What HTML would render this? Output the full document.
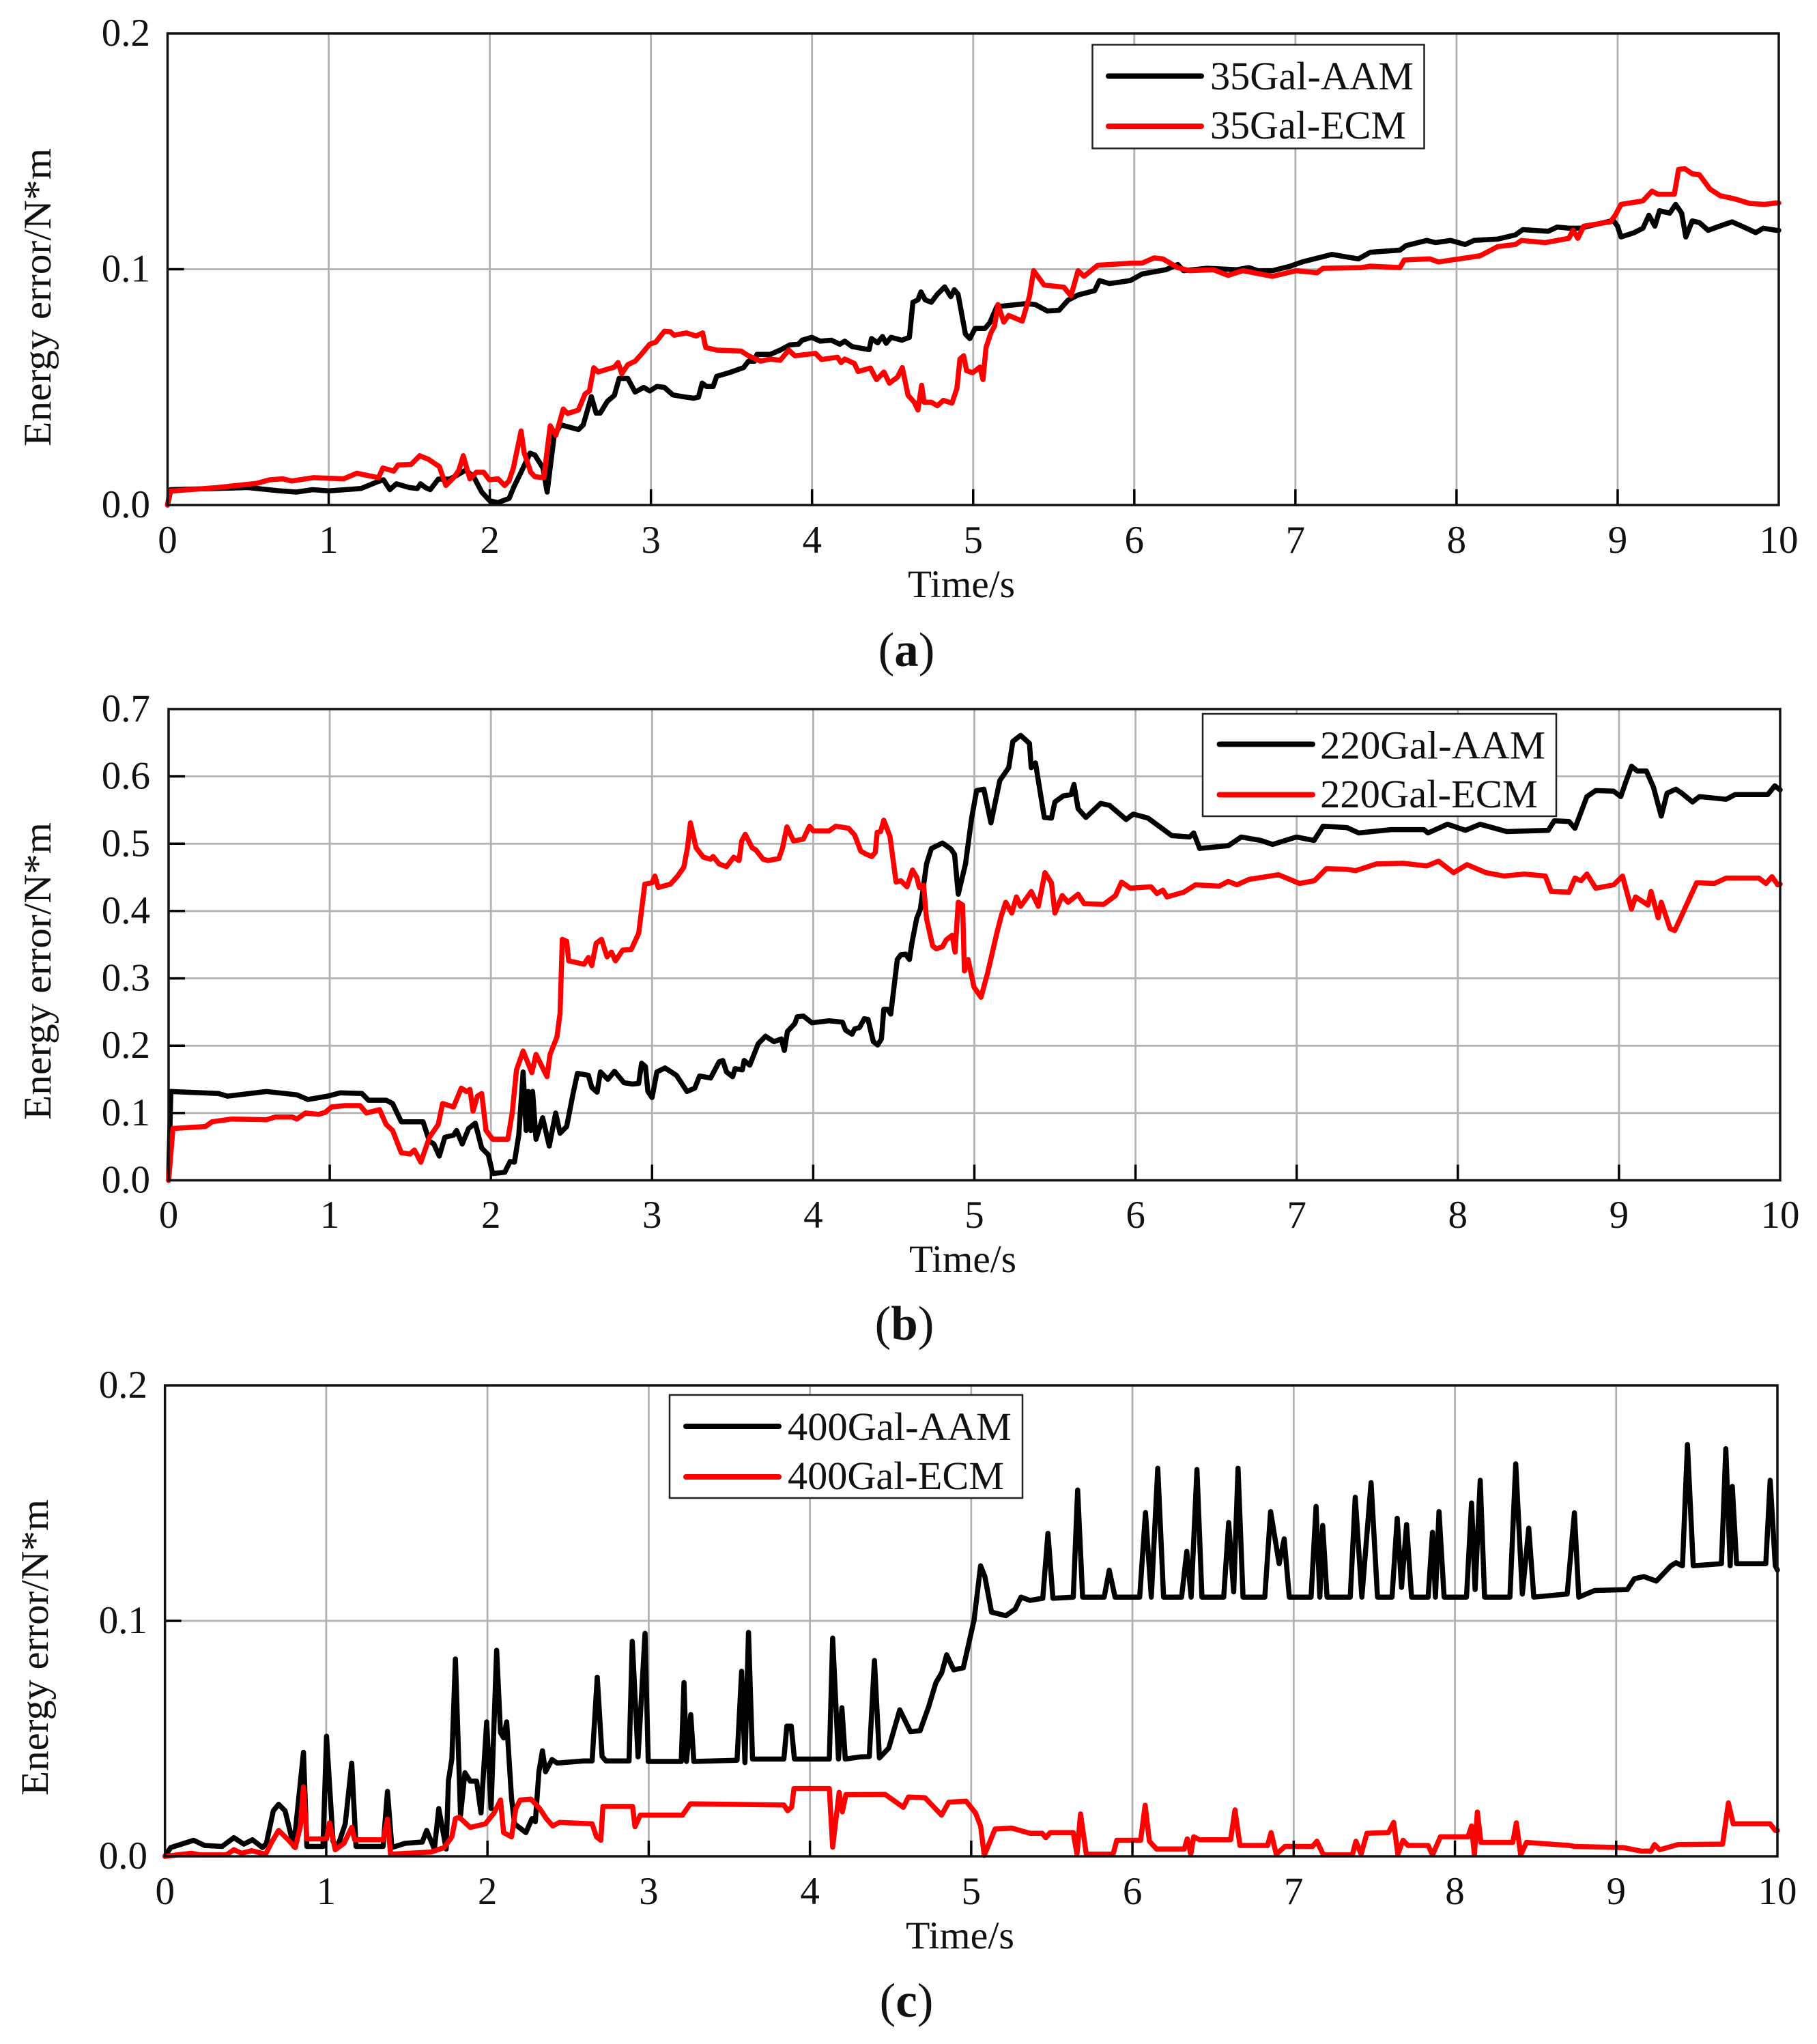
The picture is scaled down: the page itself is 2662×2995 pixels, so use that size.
<!DOCTYPE html>
<html lang="en">
<head>
<meta charset="utf-8">
<title>Energy error comparison</title>
<style>
html,body{margin:0;padding:0;background:#fff;}
#figure{display:block;width:2662px;height:2995px;background:#fff;}
text{font-family:"Liberation Serif",serif;fill:#111;}
.tick{font-size:57px;}
.title{font-size:57px;}
.legend-label{font-size:58px;}
.caption{font-size:71px;}
.caption-letter{font-weight:bold;}
</style>
</head>
<body>
<svg id="figure" xmlns="http://www.w3.org/2000/svg" width="2662" height="2995" viewBox="0 0 2662 2995">
  <rect x="0" y="0" width="2662" height="2995" fill="#fff"/>
  <g id="panel-a"></g>
  <g id="panel-b"></g>
  <g id="panel-c"></g>

  <text class="title" transform="translate(74 654) rotate(-90)" textLength="437" lengthAdjust="spacingAndGlyphs">Energy error/N*m</text>
  <text class="title" x="1330" y="875" textLength="157" lengthAdjust="spacingAndGlyphs">Time/s</text>
  <text class="caption" x="1328" y="976" text-anchor="middle">(<tspan class="caption-letter">a</tspan>)</text>

  <text class="title" transform="translate(74 1641) rotate(-90)" textLength="436" lengthAdjust="spacingAndGlyphs">Energy error/N*m</text>
  <text class="title" x="1332" y="1864" textLength="157" lengthAdjust="spacingAndGlyphs">Time/s</text>
  <text class="caption" x="1325" y="1963" text-anchor="middle">(<tspan class="caption-letter">b</tspan>)</text>

  <text class="title" transform="translate(70 2631) rotate(-90)" textLength="434" lengthAdjust="spacingAndGlyphs">Energy error/N*m</text>
  <text class="title" x="1327" y="2855" textLength="159" lengthAdjust="spacingAndGlyphs">Time/s</text>
  <text class="caption" x="1328" y="2955" text-anchor="middle">(<tspan class="caption-letter">c</tspan>)</text>

  <g id="legend-a">
    <rect x="1600.5" y="65.5" width="486" height="152" fill="#fff" stroke="#222" stroke-width="2.5"/>
    <line x1="1624" x2="1760" y1="111.5" y2="111.5" stroke="#000" stroke-width="8" stroke-linecap="round"/>
    <text class="legend-label" x="1773" y="131" textLength="298" lengthAdjust="spacingAndGlyphs">35Gal-AAM</text>
    <line x1="1624" x2="1760" y1="185" y2="185" stroke="#f00" stroke-width="8" stroke-linecap="round"/>
    <text class="legend-label" x="1773" y="203" textLength="287" lengthAdjust="spacingAndGlyphs">35Gal-ECM</text>
  </g>
  <g id="legend-b">
    <rect x="1762" y="1046" width="518" height="150" fill="#fff" stroke="#222" stroke-width="2.5"/>
    <line x1="1786.5" x2="1923" y1="1090.5" y2="1090.5" stroke="#000" stroke-width="8" stroke-linecap="round"/>
    <text class="legend-label" x="1934" y="1111.5" textLength="330" lengthAdjust="spacingAndGlyphs">220Gal-AAM</text>
    <line x1="1786.5" x2="1923" y1="1164.5" y2="1164.5" stroke="#f00" stroke-width="8" stroke-linecap="round"/>
    <text class="legend-label" x="1934" y="1183" textLength="319" lengthAdjust="spacingAndGlyphs">220Gal-ECM</text>
  </g>
  <g id="legend-c">
    <rect x="981" y="2044" width="517" height="151" fill="#fff" stroke="#222" stroke-width="2.5"/>
    <line x1="1005" x2="1141" y1="2090" y2="2090" stroke="#000" stroke-width="8" stroke-linecap="round"/>
    <text class="legend-label" x="1154" y="2110" textLength="328" lengthAdjust="spacingAndGlyphs">400Gal-AAM</text>
    <line x1="1005" x2="1141" y1="2164" y2="2164" stroke="#f00" stroke-width="8" stroke-linecap="round"/>
    <text class="legend-label" x="1154" y="2182" textLength="317" lengthAdjust="spacingAndGlyphs">400Gal-ECM</text>
  </g>
</svg>
<script>
const xTickLabels = ['0','1','2','3','4','5','6','7','8','9','10'];
const yTickLabelsA = ['0.0','0.1','0.2'];
const yTickLabelsB = ['0.0','0.1','0.2','0.3','0.4','0.5','0.6','0.7'];
const yTickLabelsC = ['0.0','0.1','0.2'];

const aAamTime = [0,.02,.3,.5,.7,.8,.9,1,1.2,1.3,1.34,1.38,1.42,1.5,1.55,1.57,1.6,1.63,1.68,1.75,1.78,1.85,1.9,1.95,2,2.05,2.12,2.15,2.2,2.25,2.28,2.33,2.356,2.4,2.44,2.55,2.58,2.63,2.66,2.685,2.73,2.773,2.803,2.856,2.902,2.955,2.992,3.038,3.083,3.136,3.204,3.265,3.295,3.318,3.345,3.386,3.408,3.484,3.575,3.605,3.643,3.658,3.741,3.802,3.862,3.915,3.938,3.998,4.051,4.12,4.172,4.203,4.248,4.354,4.369,4.407,4.437,4.46,4.49,4.558,4.604,4.626,4.657,4.676,4.702,4.74,4.778,4.823,4.861,4.883,4.906,4.952,4.979,5.012,5.073,5.103,5.147,5.33,5.386,5.46,5.533,5.589,5.651,5.754,5.784,5.846,5.975,6.049,6.196,6.27,6.306,6.453,6.637,6.71,6.766,6.858,6.968,7.042,7.152,7.226,7.3,7.391,7.465,7.649,7.686,7.815,7.87,7.962,8.054,8.109,8.256,8.366,8.411,8.569,8.624,8.698,8.771,8.845,8.973,8.999,9.021,9.102,9.157,9.194,9.231,9.26,9.323,9.36,9.397,9.423,9.463,9.507,9.562,9.617,9.71,9.783,9.857,9.904,9.985,10];
const aAamValues = [0,.0065,.007,.0074,.006,.0055,.0065,.006,.007,.0098,.0107,.0065,.009,.0074,.007,.009,.0074,.0065,.011,.011,.012,.0148,.012,.0055,.0018,.001,.0028,.0078,.0148,.022,.0212,.0157,.0055,.0296,.034,.032,.034,.046,.039,.039,.044,.0465,.0537,.0537,.0479,.0499,.0484,.0503,.0499,.0467,.0459,.0453,.0458,.0517,.0503,.0503,.0546,.0561,.0583,.061,.061,.0639,.0639,.0657,.0679,.0682,.0699,.0711,.0695,.0699,.0682,.0695,.0672,.0659,.0706,.0688,.0715,.0686,.0711,.0699,.0711,.086,.087,.0904,.087,.086,.0894,.0925,.0884,.0913,.0894,.0725,.0706,.0749,.0749,.0773,.0841,.0854,.085,.0823,.0826,.0869,.0891,.0909,.0952,.0939,.0952,.098,.0998,.102,.0994,.1004,.0998,.1007,.0994,.0994,.1013,.1031,.105,.1063,.1054,.1044,.1072,.1081,.11,.1122,.1113,.1122,.1105,.1122,.1128,.1146,.1168,.1161,.1179,.1174,.1174,.1187,.1207,.1183,.1137,.1155,.1174,.1229,.1183,.1248,.1238,.1275,.1238,.1137,.1205,.1198,.1165,.1179,.1201,.1179,.1155,.1174,.1165,.1165];

const aEcmTime = [0,.014,.31,.553,.634,.715,.77,.904,1.093,1.174,1.309,1.336,1.404,1.43,1.511,1.565,1.619,1.687,1.727,1.781,1.808,1.835,1.876,1.916,1.962,1.997,2.051,2.092,2.119,2.146,2.194,2.213,2.254,2.28,2.335,2.375,2.41,2.456,2.483,2.55,2.591,2.618,2.645,2.672,2.773,2.796,2.819,2.856,2.902,2.94,2.992,3.03,3.083,3.121,3.144,3.22,3.28,3.321,3.34,3.408,3.56,3.605,3.681,3.741,3.802,3.855,3.893,4.021,4.059,4.157,4.18,4.203,4.263,4.286,4.362,4.4,4.446,4.48,4.53,4.56,4.596,4.634,4.657,4.68,4.695,4.74,4.778,4.815,4.868,4.899,4.918,4.941,4.959,4.997,5.042,5.061,5.08,5.11,5.133,5.154,5.19,5.22,5.305,5.35,5.375,5.44,5.563,5.607,5.651,5.688,5.773,5.99,6.049,6.122,6.177,6.27,6.343,6.49,6.582,6.674,6.858,7.005,7.134,7.171,7.41,7.465,7.649,7.675,7.833,7.888,8.146,8.256,8.366,8.403,8.55,8.697,8.723,8.753,8.79,8.955,8.985,9.021,9.157,9.213,9.25,9.352,9.378,9.415,9.463,9.507,9.573,9.636,9.728,9.82,9.912,9.985,10];
const aEcmValues = [0,.0059,.0074,.0092,.0107,.0111,.0102,.0116,.0111,.0135,.0116,.0157,.0144,.017,.0172,.0209,.0194,.0163,.0083,.012,.0148,.0209,.0111,.0139,.0139,.0107,.0111,.0083,.0102,.0157,.0314,.0222,.0139,.012,.0116,.0336,.0296,.0407,.0388,.0403,.0471,.0484,.0582,.0564,.0585,.0604,.0557,.0595,.061,.0639,.0682,.0691,.0737,.0735,.072,.073,.0717,.073,.0668,.0657,.0653,.0633,.061,.0619,.0614,.0657,.0633,.0643,.0617,.0627,.0604,.0619,.06,.0566,.0581,.0532,.0564,.0517,.0542,.0583,.0465,.0436,.0403,.0508,.0436,.0436,.0421,.0444,.0432,.0494,.0619,.0633,.057,.0561,.0585,.0532,.0668,.073,.076,.085,.0776,.0804,.078,.0887,.0994,.0933,.0924,.0887,.0994,.097,.1017,.1026,.1026,.1048,.1044,.1007,.0994,.0998,.0974,.0994,.097,.0994,.0985,.1004,.1007,.1013,.1007,.1039,.1044,.1031,.1057,.1096,.1105,.1122,.1113,.1131,.1165,.1131,.1183,.1201,.1229,.1275,.129,.1331,.1318,.1318,.1423,.1427,.1405,.1401,.134,.1312,.1298,.1279,.1275,.1281,.1281];

const bAamTime = [0,.014,.31,.365,.607,.796,.864,.985,1.066,1.2,1.24,1.35,1.39,1.444,1.579,1.619,1.646,1.68,1.714,1.768,1.787,1.822,1.862,1.903,1.943,1.984,2.011,2.086,2.119,2.146,2.173,2.2,2.219,2.232,2.248,2.259,2.28,2.321,2.362,2.402,2.429,2.47,2.51,2.537,2.605,2.626,2.659,2.68,2.726,2.767,2.826,2.879,2.917,2.935,2.959,2.974,3,3.03,3.08,3.151,3.217,3.265,3.295,3.363,3.416,3.439,3.462,3.5,3.515,3.56,3.572,3.606,3.659,3.704,3.757,3.802,3.821,3.84,3.886,3.901,3.939,3.992,4.098,4.181,4.201,4.241,4.257,4.287,4.317,4.34,4.373,4.4,4.423,4.438,4.461,4.481,4.522,4.544,4.574,4.597,4.612,4.642,4.665,4.703,4.733,4.802,4.855,4.877,4.9,4.945,4.983,5.014,5.059,5.103,5.158,5.213,5.239,5.287,5.342,5.353,5.379,5.434,5.478,5.5,5.552,5.6,5.618,5.644,5.692,5.784,5.839,5.942,5.986,6.078,6.225,6.336,6.361,6.398,6.575,6.656,6.777,6.851,6.998,7.108,7.164,7.311,7.385,7.586,7.789,7.815,7.936,8.047,8.139,8.304,8.561,8.598,8.69,8.727,8.801,8.856,8.967,9.011,9.041,9.078,9.114,9.17,9.214,9.262,9.298,9.353,9.39,9.456,9.5,9.665,9.72,9.923,9.967,10];
const bAamValues = [0,.132,.129,.125,.132,.127,.12,.125,.13,.129,.119,.119,.114,.087,.087,.058,.054,.036,.064,.067,.074,.054,.077,.085,.048,.038,.01,.012,.028,.027,.067,.161,.074,.132,.074,.132,.061,.093,.051,.1,.07,.08,.129,.159,.156,.138,.131,.161,.15,.162,.145,.143,.144,.174,.169,.132,.123,.161,.167,.156,.132,.137,.155,.152,.176,.178,.161,.154,.166,.164,.178,.171,.203,.214,.206,.21,.193,.221,.233,.243,.244,.234,.237,.235,.223,.217,.225,.227,.24,.239,.206,.201,.21,.254,.254,.247,.328,.335,.336,.328,.352,.389,.403,.47,.493,.501,.492,.484,.425,.47,.538,.579,.581,.531,.594,.613,.652,.661,.649,.613,.62,.539,.538,.562,.571,.573,.588,.552,.539,.56,.557,.536,.544,.538,.512,.51,.516,.493,.497,.51,.505,.499,.51,.505,.526,.524,.516,.521,.521,.516,.529,.52,.529,.518,.52,.534,.533,.523,.57,.579,.578,.57,.591,.615,.608,.608,.584,.541,.575,.581,.575,.562,.57,.566,.573,.573,.586,.58];

const bEcmTime = [0,.027,.229,.27,.391,.607,.661,.769,.796,.85,.931,.972,1.012,1.093,1.188,1.228,1.309,1.35,1.39,1.444,1.498,1.525,1.565,1.619,1.673,1.7,1.768,1.816,1.849,1.87,1.889,1.916,1.943,1.97,2.011,2.105,2.132,2.159,2.2,2.254,2.28,2.348,2.367,2.41,2.429,2.443,2.47,2.483,2.578,2.605,2.626,2.653,2.686,2.721,2.748,2.773,2.818,2.871,2.917,2.955,3,3.018,3.038,3.114,3.159,3.197,3.22,3.238,3.273,3.318,3.363,3.379,3.416,3.462,3.507,3.54,3.556,3.578,3.621,3.643,3.689,3.719,3.787,3.81,3.837,3.878,3.939,3.977,4,4.098,4.14,4.219,4.257,4.295,4.325,4.363,4.385,4.397,4.418,4.438,4.476,4.514,4.544,4.582,4.616,4.643,4.658,4.685,4.703,4.741,4.764,4.802,4.825,4.862,4.88,4.9,4.927,4.938,4.961,4.998,5.041,5.082,5.14,5.166,5.195,5.232,5.261,5.287,5.353,5.397,5.438,5.478,5.5,5.545,5.581,5.644,5.681,5.802,5.876,5.913,5.968,6.096,6.133,6.17,6.196,6.299,6.372,6.519,6.575,6.63,6.703,6.887,7.018,7.11,7.184,7.31,7.366,7.494,7.66,7.807,7.88,7.974,8.057,8.175,8.285,8.414,8.543,8.58,8.69,8.727,8.764,8.801,8.856,8.967,9.022,9.077,9.103,9.18,9.199,9.243,9.262,9.317,9.346,9.39,9.482,9.592,9.665,9.868,9.912,9.949,9.985,10];
const bEcmValues = [0,.077,.08,.087,.091,.09,.094,.094,.091,.1,.098,.101,.109,.111,.111,.1,.105,.083,.074,.041,.039,.045,.027,.064,.083,.114,.109,.137,.132,.135,.103,.125,.129,.074,.061,.061,.1,.164,.192,.16,.187,.154,.187,.213,.248,.358,.355,.326,.321,.331,.319,.352,.358,.332,.339,.326,.342,.343,.367,.44,.442,.452,.435,.44,.452,.465,.494,.531,.494,.48,.477,.481,.47,.466,.48,.475,.504,.514,.494,.491,.477,.475,.478,.494,.525,.504,.507,.526,.519,.519,.526,.523,.513,.489,.485,.481,.487,.517,.518,.535,.511,.443,.445,.436,.461,.45,.435,.438,.389,.348,.344,.347,.357,.364,.339,.413,.409,.311,.328,.287,.272,.308,.368,.392,.413,.397,.421,.407,.429,.407,.457,.442,.397,.423,.413,.425,.411,.41,.423,.443,.434,.436,.426,.431,.421,.428,.439,.437,.444,.439,.447,.454,.441,.445,.463,.462,.46,.47,.471,.467,.474,.457,.469,.457,.452,.455,.452,.429,.428,.449,.445,.455,.434,.439,.452,.403,.421,.409,.429,.39,.413,.374,.371,.394,.442,.441,.449,.449,.441,.451,.439,.44];

const cAamTime = [0,.035,.178,.246,.354,.427,.489,.543,.605,.629,.672,.705,.745,.799,.859,.88,.98,1.002,1.042,1.069,1.118,1.158,1.185,1.353,1.38,1.407,1.488,1.596,1.623,1.671,1.698,1.744,1.758,1.779,1.801,1.833,1.86,1.893,1.933,1.96,1.995,2.022,2.057,2.081,2.1,2.119,2.149,2.168,2.238,2.276,2.297,2.319,2.341,2.36,2.4,2.433,2.595,2.649,2.681,2.711,2.735,2.878,2.898,2.934,2.977,2.997,3.202,3.219,3.234,3.261,3.28,3.548,3.576,3.597,3.619,3.644,3.838,3.857,3.884,3.904,4.12,4.141,4.177,4.198,4.219,4.308,4.368,4.4,4.431,4.489,4.557,4.624,4.683,4.736,4.781,4.817,4.848,4.892,4.951,5.018,5.058,5.085,5.126,5.215,5.273,5.309,5.364,5.444,5.476,5.507,5.633,5.66,5.691,5.825,5.856,5.892,6.045,6.081,6.117,6.157,6.193,6.305,6.337,6.364,6.4,6.431,6.566,6.597,6.628,6.655,6.686,6.821,6.857,6.91,6.941,6.973,7.108,7.139,7.162,7.18,7.207,7.351,7.382,7.423,7.48,7.52,7.61,7.642,7.669,7.7,7.731,7.834,7.861,7.879,7.901,7.933,8.072,8.103,8.125,8.157,8.184,8.341,8.377,8.418,8.458,8.489,8.696,8.741,8.768,8.867,9.069,9.113,9.172,9.249,9.339,9.371,9.411,9.442,9.478,9.653,9.68,9.707,9.72,9.747,9.928,9.955,9.987,10];
const cAamValues = [0,.0037,.0068,.0046,.0042,.0079,.0052,.007,.0037,.0055,.0193,.0221,.0193,.0042,.0442,.0042,.0042,.051,.0064,.0037,.0138,.0396,.0042,.0042,.0276,.0037,.0055,.0061,.011,.0031,.0203,.0031,.0322,.0414,.0838,.0175,.0355,.0319,.0319,.0184,.0571,.0203,.0875,.0525,.0503,.0571,.0249,.0138,.0101,.016,.0147,.0359,.0448,.0359,.0411,.0396,.0405,.0405,.0761,.0424,.0405,.0405,.0913,.0422,.0947,.0403,.0403,.0738,.0403,.0602,.0403,.0408,.0786,.0398,.0951,.0413,.0413,.0553,.0553,.0413,.0413,.0927,.0413,.0631,.0413,.0422,.0424,.0832,.0418,.046,.0622,.0529,.0534,.0635,.0737,.0779,.0856,.0792,.0801,.1004,.1234,.1188,.1037,.1022,.105,.1101,.1087,.1096,.1372,.1096,.1101,.1556,.1101,.1101,.1215,.1101,.1101,.146,.1101,.1648,.1101,.1101,.1295,.1101,.1643,.1101,.1101,.1418,.1123,.1648,.1101,.1101,.1464,.1243,.1348,.1101,.1101,.1486,.1101,.1405,.1101,.1101,.1525,.1101,.1587,.1101,.1101,.1436,.1142,.1409,.1101,.1101,.1376,.1101,.1464,.1101,.1101,.1501,.1133,.1597,.1101,.1101,.1667,.1114,.1394,.1101,.1114,.1459,.1101,.1129,.1133,.1179,.1188,.1169,.1234,.1247,.1234,.1749,.1234,.1243,.1731,.1234,.1571,.1243,.1243,.1597,.1234,.1216];

const cEcmTime = [0,.165,.219,.381,.427,.475,.538,.624,.665,.705,.759,.808,.84,.859,.88,1.002,1.02,1.056,1.11,1.158,1.177,1.353,1.38,1.399,1.649,1.731,1.779,1.801,1.825,1.893,1.987,2.041,2.081,2.1,2.149,2.176,2.203,2.27,2.324,2.365,2.405,2.446,2.649,2.676,2.703,2.716,2.9,2.915,2.948,3.209,3.258,3.838,3.862,3.887,3.901,4.12,4.141,4.181,4.201,4.223,4.467,4.579,4.611,4.713,4.816,4.861,4.969,5.027,5.058,5.081,5.148,5.251,5.364,5.44,5.463,5.49,5.633,5.656,5.678,5.714,5.88,5.903,6.051,6.079,6.105,6.15,6.321,6.34,6.362,6.38,6.416,6.609,6.636,6.667,6.838,6.86,6.892,6.946,7.117,7.144,7.184,7.364,7.386,7.418,7.454,7.588,7.62,7.646,7.678,7.709,7.834,7.861,7.91,8.081,8.103,8.121,8.139,8.161,8.359,8.381,8.408,8.444,8.709,8.741,9.045,9.157,9.216,9.238,9.27,9.382,9.66,9.696,9.726,9.955,9.987,10];
const cEcmValues = [0,.0013,.0006,.0006,.0028,.0013,.0024,.0009,.0064,.011,.0074,.0037,.0129,.0295,.0074,.0074,.0142,.0028,.0055,.0123,.007,.007,.0157,.0009,.0018,.0037,.0083,.016,.0166,.0123,.0138,.0184,.0239,.0101,.0083,.0203,.0239,.0243,.0203,.016,.0129,.0144,.0138,.0083,.0068,.0212,.0212,.0126,.0175,.0175,.0223,.0218,.0194,.0209,.0288,.0288,.0039,.0272,.0189,.0262,.0263,.0208,.0252,.0249,.0175,.023,.0234,.0184,.0129,.0004,.0116,.012,.0098,.0098,.0079,.0101,.0101,.0009,.018,.0009,.0009,.0068,.0068,.0217,.0064,.0031,.0031,.0074,.0009,.0083,.007,.007,.0197,.0046,.0046,.0101,.0009,.0042,.0042,.0064,.0006,.0006,.0064,.0009,.0098,.0101,.0144,.0009,.0068,.0046,.0046,.0006,.0083,.0083,.0129,.0006,.0188,.0059,.0059,.0142,.0006,.0059,.0046,.0042,.0037,.0022,.0022,.005,.0028,.005,.0052,.0227,.0138,.0138,.011,.011];

const SVG_NS = 'http://www.w3.org/2000/svg';

function makeAxes(left, right, top, bottom, yMax) {
  return {
    left, right, top, bottom,
    x: function (t) { return left + (right - left) * t / 10; },
    y: function (v) { return bottom - (bottom - top) * v / yMax; }
  };
}

function shape(tag, attrs, parent) {
  const node = document.createElementNS(SVG_NS, tag);
  for (const key in attrs) { node.setAttribute(key, attrs[key]); }
  parent.appendChild(node);
  return node;
}

function drawGrid(group, axes, yLabels, yMax, labelRight, xBaseline) {
  xTickLabels.forEach(function (label) {
    const t = Number(label);
    if (t > 0 && t < 10) {
      const gridLine = shape('line', { x1: axes.x(t), x2: axes.x(t), y1: axes.top, y2: axes.bottom, stroke: '#b2b2b2', 'stroke-width': 2.8 }, group);
      
      
    }
    const tickText = shape('text', { x: axes.x(t), y: xBaseline, 'text-anchor': 'middle', class: 'tick' }, group);
    tickText.textContent = label;
    
    
  });
  yLabels.forEach(function (label) {
    const v = Number(label);
    if (v > 0 && v < yMax) {
      const gridLine = shape('line', { x1: axes.left, x2: axes.right, y1: axes.y(v), y2: axes.y(v), stroke: '#b2b2b2', 'stroke-width': 2.8 }, group);
      
      
    }
    const tickText = shape('text', { x: labelRight, y: axes.y(v) + 18, 'text-anchor': 'end', class: 'tick' }, group);
    tickText.textContent = label;
    
    
  });
}

function drawSeries(group, axes, times, values, color, width, name) {
  let d = '';
  for (let i = 0; i < times.length; i++) {
    d += (i ? 'L' : 'M') + axes.x(times[i]).toFixed(1) + ' ' + axes.y(values[i]).toFixed(1);
  }
  const path = shape('path', { d: d, fill: 'none', stroke: color, 'stroke-width': width, 'stroke-linejoin': 'round', 'stroke-linecap': 'round' }, group);
  
  
}

function drawFrame(group, axes, yLabels, yMax) {
  xTickLabels.forEach(function (label) {
    const t = Number(label);
    if (t > 0 && t < 10) {
      const tick = shape('line', { x1: axes.x(t), x2: axes.x(t), y1: axes.bottom, y2: axes.bottom - 23, stroke: '#000', 'stroke-width': 3.5 }, group);
      
      
    }
  });
  yLabels.forEach(function (label) {
    const v = Number(label);
    if (v > 0 && v < yMax) {
      const tick = shape('line', { x1: axes.left, x2: axes.left + 24, y1: axes.y(v), y2: axes.y(v), stroke: '#000', 'stroke-width': 3.5 }, group);
      
      
    }
  });
  const frame = shape('rect', { x: axes.left, y: axes.top, width: axes.right - axes.left, height: axes.bottom - axes.top, fill: 'none', stroke: '#111', 'stroke-width': 3.5 }, group);
  
  
}

const axesA = makeAxes(245.5, 2606, 49, 740, 0.2);
const axesB = makeAxes(247, 2608, 1039, 1729.5, 0.7);
const axesC = makeAxes(241.7, 2604, 2030, 2720, 0.2);

const groupA = document.getElementById('panel-a');
drawGrid(groupA, axesA, yTickLabelsA, 0.2, 220, 810);
drawSeries(groupA, axesA, aAamTime, aAamValues, '#000', 7.5, 'series-35gal-aam');
drawSeries(groupA, axesA, aEcmTime, aEcmValues, '#f00', 7.5, 'series-35gal-ecm');
drawFrame(groupA, axesA, yTickLabelsA, 0.2);

const groupB = document.getElementById('panel-b');
drawGrid(groupB, axesB, yTickLabelsB, 0.7, 220, 1799);
drawSeries(groupB, axesB, bAamTime, bAamValues, '#000', 7.5, 'series-220gal-aam');
drawSeries(groupB, axesB, bEcmTime, bEcmValues, '#f00', 7.5, 'series-220gal-ecm');
drawFrame(groupB, axesB, yTickLabelsB, 0.7);

const groupC = document.getElementById('panel-c');
drawGrid(groupC, axesC, yTickLabelsC, 0.2, 216, 2790);
drawSeries(groupC, axesC, cAamTime, cAamValues, '#000', 7.5, 'series-400gal-aam');
drawSeries(groupC, axesC, cEcmTime, cEcmValues, '#f00', 7.5, 'series-400gal-ecm');
drawFrame(groupC, axesC, yTickLabelsC, 0.2);
</script>
</body>
</html>
